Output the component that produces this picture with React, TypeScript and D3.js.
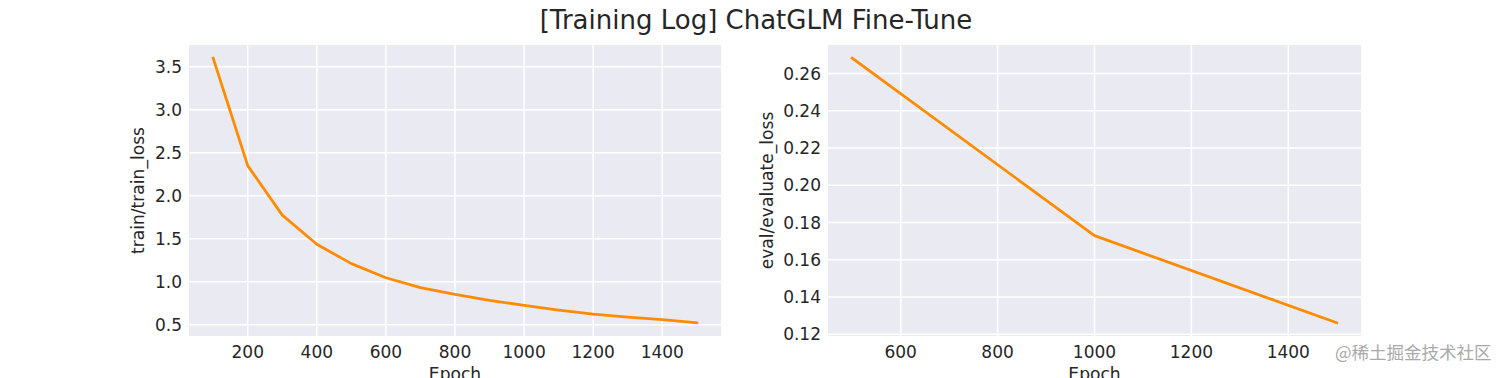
import React from "react";
import * as d3 from "d3";

const title = "[Training Log] ChatGLM Fine-Tune";
const trainEpochs = [100, 200, 300, 400, 500, 600, 700, 800, 900, 1000, 1100, 1200, 1300, 1400, 1500];
const trainLoss = [3.6, 2.35, 1.775, 1.435, 1.21, 1.046, 0.932, 0.852, 0.783, 0.725, 0.67, 0.622, 0.588, 0.558, 0.522];
const evalEpochs = [500, 1000, 1500];
const evalLoss = [0.2682, 0.1729, 0.1261];
const trainYTicks = [0.5, 1.0, 1.5, 2.0, 2.5, 3.0, 3.5];
const trainXTicks = [200, 400, 600, 800, 1000, 1200, 1400];
const evalYTicks = [0.12, 0.14, 0.16, 0.18, 0.2, 0.22, 0.24, 0.26];
const evalXTicks = [600, 800, 1000, 1200, 1400];
const xLabel = "Epoch";
const trainYLabel = "train/train_loss";
const evalYLabel = "eval/evaluate_loss";
const watermark = "@稀土掘金技术社区";

const W = 1512;
const H = 378;
const FONT = "'DejaVu Sans', sans-serif";
const TEXT = "#262626";
const LINE = "#FF8C00";

function pad(ext: [number, number]): [number, number] {
  const r = ext[1] - ext[0];
  return [ext[0] - 0.05 * r, ext[1] + 0.05 * r];
}

type PanelProps = {
  left: number; right: number; top: number; bottom: number;
  xs: number[]; ys: number[]; xTicks: number[]; yTicks: number[];
  yFmt: (v: number) => string; yLabel: string; yLabelX: number;
};

function Panel(p: PanelProps) {
  const x = d3.scaleLinear().domain(pad(d3.extent(p.xs) as [number, number])).range([p.left, p.right]);
  const y = d3.scaleLinear().domain(pad(d3.extent(p.ys) as [number, number])).range([p.bottom, p.top]);
  const line = d3.line<number>().x((_, i) => x(p.xs[i])).y((d) => y(d));
  const cy = (p.top + p.bottom) / 2;
  return (
    <g>
      <rect x={p.left} y={p.top} width={p.right - p.left} height={p.bottom - p.top} fill="#EAEAF2" />
      {p.xTicks.map((t) => (
        <line key={"gx" + t} x1={x(t)} x2={x(t)} y1={p.top} y2={p.bottom} stroke="#fff" strokeWidth={1.5} />
      ))}
      {p.yTicks.map((t) => (
        <line key={"gy" + t} x1={p.left} x2={p.right} y1={y(t)} y2={y(t)} stroke="#fff" strokeWidth={1.5} />
      ))}
      <path d={line(p.ys) || ""} fill="none" stroke={LINE} strokeWidth={2.8} strokeLinejoin="round" strokeLinecap="square" />
      {p.xTicks.map((t) => (
        <text key={"tx" + t} x={x(t)} y={358} textAnchor="middle" fontSize={17} fill={TEXT} fontFamily={FONT}>
          {d3.format("d")(t)}
        </text>
      ))}
      {p.yTicks.map((t) => (
        <text key={"ty" + t} x={p.left - 7} y={y(t)} dy="0.36em" textAnchor="end" fontSize={17} fill={TEXT} fontFamily={FONT}>
          {p.yFmt(t)}
        </text>
      ))}
      <text x={(p.left + p.right) / 2} y={380} textAnchor="middle" fontSize={17.1} fill={TEXT} fontFamily={FONT}>
        {xLabel}
      </text>
      <text
        transform={`translate(${p.yLabelX},${cy}) rotate(-90)`}
        textAnchor="middle"
        dy="0.36em"
        fontSize={17.1}
        fill={TEXT}
        fontFamily={FONT}
      >
        {p.yLabel}
      </text>
    </g>
  );
}

export default function App() {
  return (
    <svg width={W} height={H} style={{ position: "absolute", left: 0, top: 0, background: "#fff" }}>
      <rect width={W} height={H} fill="#fff" />
      <text x={756} y={29} textAnchor="middle" fontSize={26} fill={TEXT} fontFamily={FONT}>
        {title}
      </text>
      <Panel
        left={189} right={721} top={45} bottom={336}
        xs={trainEpochs} ys={trainLoss} xTicks={trainXTicks} yTicks={trainYTicks}
        yFmt={d3.format(".1f")} yLabel={trainYLabel} yLabelX={138}
      />
      <Panel
        left={828} right={1361} top={45} bottom={336}
        xs={evalEpochs} ys={evalLoss} xTicks={evalXTicks} yTicks={evalYTicks}
        yFmt={d3.format(".2f")} yLabel={evalYLabel} yLabelX={767}
      />
      <text x={1335} y={359} fontSize={17.5} fill="#a9a9a9" fontFamily="'Noto Sans CJK SC', sans-serif"
        stroke="#ffffff" strokeWidth={0.6} paintOrder="stroke">
        {watermark}
      </text>
    </svg>
  );
}
